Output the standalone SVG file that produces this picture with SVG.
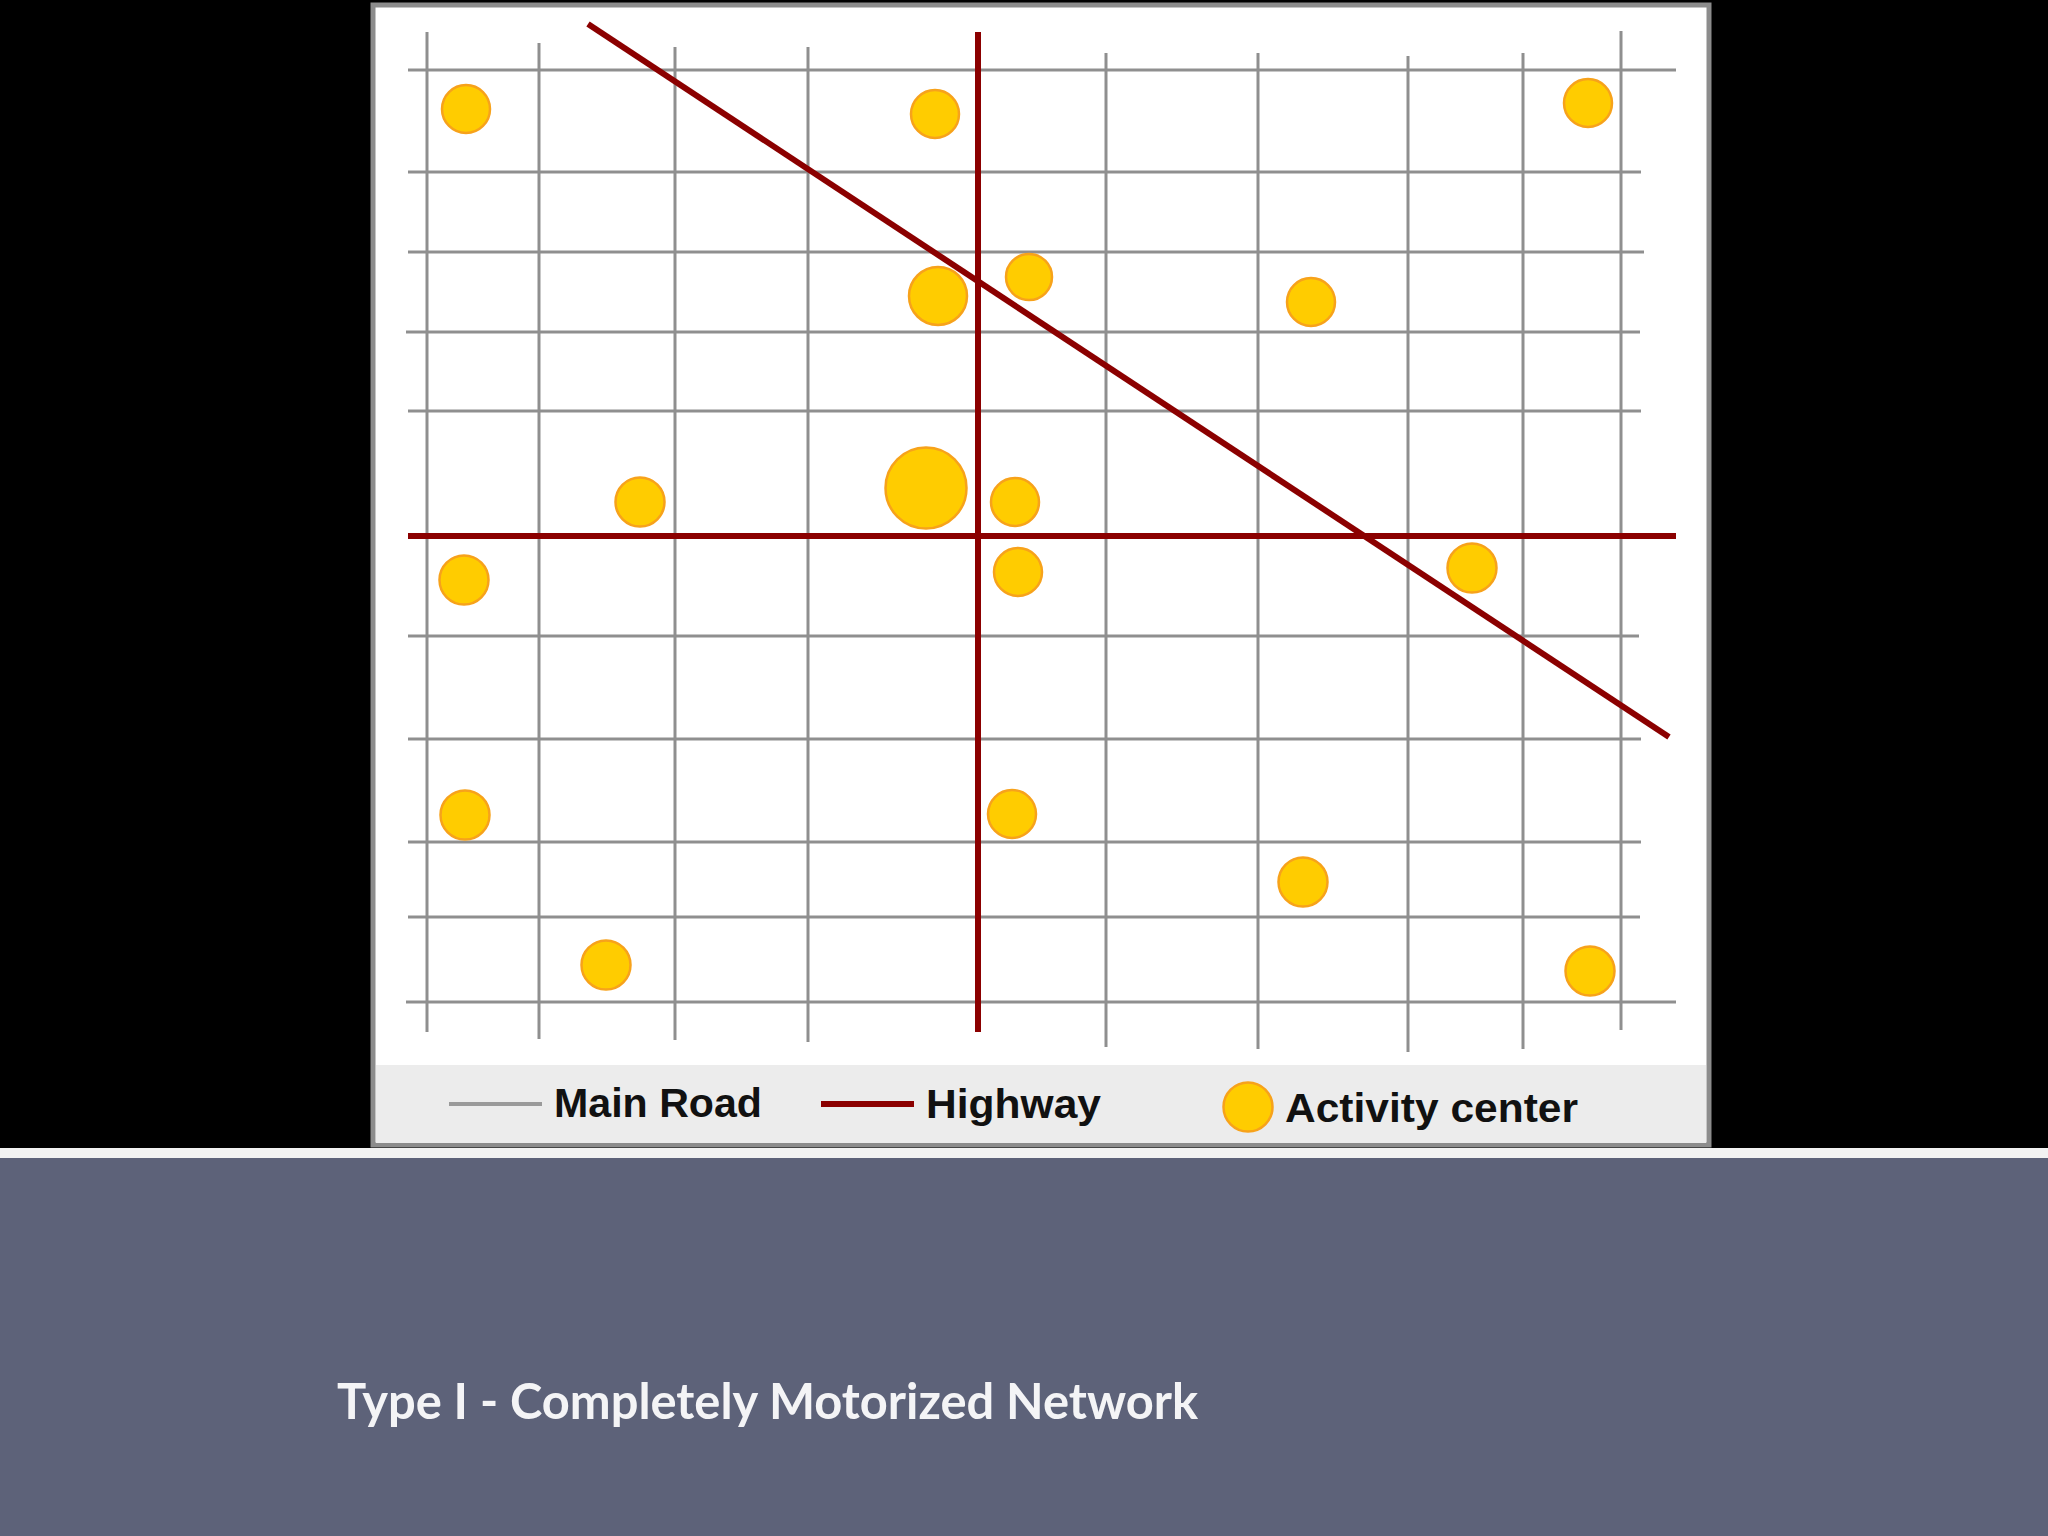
<svg xmlns="http://www.w3.org/2000/svg" width="2048" height="1536" viewBox="0 0 2048 1536">
<defs>
<style>
.road{stroke:#8f8f8f;stroke-width:3;fill:none}
.hwy{stroke:#8b0000;stroke-width:6;fill:none}
.ac{fill:#ffcc00;stroke:#f7a21b;stroke-width:2.5}
.lg{font-family:"Liberation Sans",Arial,sans-serif;font-weight:bold;font-size:40px;fill:#111}
.title{font-family:Lato,"Open Sans",sans-serif;font-weight:bold;font-size:50px;fill:#f4f4f6}
</style>
</defs>
<rect x="0" y="0" width="2048" height="1536" fill="#000"/>
<rect x="0" y="1148" width="2048" height="10" fill="#f2f2f2"/>
<rect x="0" y="1158" width="2048" height="378" fill="#5d6279"/>
<g id="panel">
<rect x="373" y="5" width="1336" height="1140" fill="#fff" stroke="#8c8c8c" stroke-width="5"/>
<rect x="376" y="1065" width="1330" height="78" fill="#ececec"/>
</g>
<g id="connectors">
<g id="main-roads">
<line class="road" x1="427" y1="32" x2="427" y2="1032"/>
<line class="road" x1="539" y1="43" x2="539" y2="1039"/>
<line class="road" x1="675" y1="47" x2="675" y2="1040"/>
<line class="road" x1="808" y1="47" x2="808" y2="1042"/>
<line class="road" x1="1106" y1="53" x2="1106" y2="1047"/>
<line class="road" x1="1258" y1="53" x2="1258" y2="1049"/>
<line class="road" x1="1408" y1="56" x2="1408" y2="1052"/>
<line class="road" x1="1523" y1="53" x2="1523" y2="1049"/>
<line class="road" x1="1621" y1="31" x2="1621" y2="1030"/>
<line class="road" x1="408" y1="70" x2="1676" y2="70"/>
<line class="road" x1="408" y1="172" x2="1641" y2="172"/>
<line class="road" x1="408" y1="252" x2="1644" y2="252"/>
<line class="road" x1="406" y1="332" x2="1640" y2="332"/>
<line class="road" x1="408" y1="411" x2="1641" y2="411"/>
<line class="road" x1="408" y1="636" x2="1639" y2="636"/>
<line class="road" x1="408" y1="739" x2="1641" y2="739"/>
<line class="road" x1="408" y1="842" x2="1641" y2="842"/>
<line class="road" x1="408" y1="917" x2="1640" y2="917"/>
<line class="road" x1="406" y1="1002" x2="1676" y2="1002"/>
</g>
<g id="highways">
<line class="hwy" x1="978" y1="32" x2="978" y2="1032"/>
<line class="hwy" x1="408" y1="536" x2="1676" y2="536"/>
<line class="hwy" x1="588" y1="24" x2="1669" y2="737"/>
</g>
</g>
<g id="ac1"><circle class="ac" cx="466" cy="109" r="24"/></g>
<g id="ac2"><circle class="ac" cx="935" cy="114" r="24"/></g>
<g id="ac3"><circle class="ac" cx="1588" cy="103" r="24"/></g>
<g id="ac4"><circle class="ac" cx="938" cy="296" r="29"/></g>
<g id="ac5"><circle class="ac" cx="1029" cy="277" r="23"/></g>
<g id="ac6"><circle class="ac" cx="1311" cy="302" r="24"/></g>
<g id="ac7"><circle class="ac" cx="640" cy="502" r="24.5"/></g>
<g id="ac8"><circle class="ac" cx="926" cy="488" r="40.5"/></g>
<g id="ac9"><circle class="ac" cx="1015" cy="502" r="24"/></g>
<g id="ac10"><circle class="ac" cx="464" cy="580" r="24.5"/></g>
<g id="ac11"><circle class="ac" cx="1018" cy="572" r="24"/></g>
<g id="ac12"><circle class="ac" cx="1472" cy="568" r="24.5"/></g>
<g id="ac13"><circle class="ac" cx="465" cy="815" r="24.5"/></g>
<g id="ac14"><circle class="ac" cx="1012" cy="814" r="24"/></g>
<g id="ac15"><circle class="ac" cx="1303" cy="882" r="24.5"/></g>
<g id="ac16"><circle class="ac" cx="606" cy="965" r="24.5"/></g>
<g id="ac17"><circle class="ac" cx="1590" cy="971" r="24.5"/></g>
<g id="legend">
<line x1="449" y1="1104" x2="542" y2="1104" stroke="#9a9a9a" stroke-width="4"/>
<text class="lg" x="554" y="1117" textLength="208" lengthAdjust="spacingAndGlyphs">Main Road</text>
<line x1="821" y1="1104" x2="914" y2="1104" stroke="#8b0000" stroke-width="6"/>
<text class="lg" x="926" y="1118" textLength="175" lengthAdjust="spacingAndGlyphs">Highway</text>
<circle class="ac" cx="1248" cy="1107" r="24.5"/>
<text class="lg" x="1285" y="1122" textLength="293" lengthAdjust="spacingAndGlyphs">Activity center</text>
</g>
<text class="title" x="337" y="1419" textLength="861" lengthAdjust="spacingAndGlyphs">Type I - Completely Motorized Network</text>
</svg>
